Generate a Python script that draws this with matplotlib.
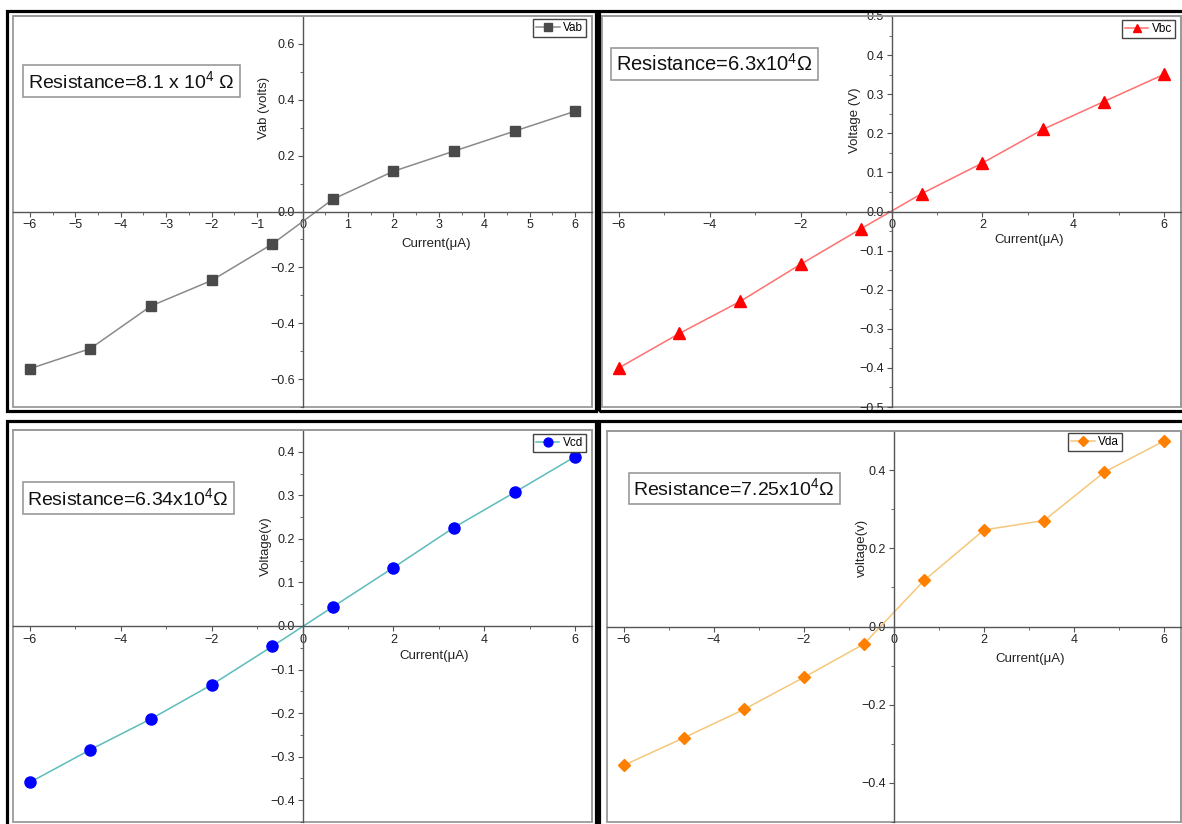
import matplotlib
matplotlib.use("Agg")
import matplotlib.pyplot as plt
from matplotlib.patches import Rectangle
from matplotlib.ticker import MultipleLocator

plt.rcParams['font.family'] = ['Liberation Sans', 'DejaVu Sans']
plt.rcParams['mathtext.fontset'] = 'custom'
plt.rcParams['mathtext.rm'] = 'Liberation Sans'
plt.rcParams['mathtext.it'] = 'Liberation Sans'

current = [-6, -4.67, -3.33, -2, -0.67, 0.67, 2, 3.33, 4.67, 6]

vab = [-0.563, -0.491, -0.338, -0.247, -0.117, 0.044, 0.144, 0.216, 0.288, 0.359]
vbc = [-0.400, -0.312, -0.230, -0.135, -0.044, 0.046, 0.124, 0.210, 0.281, 0.351]
vcd = [-0.359, -0.284, -0.213, -0.135, -0.047, 0.044, 0.134, 0.226, 0.307, 0.389]
vda = [-0.355, -0.285, -0.212, -0.130, -0.045, 0.118, 0.247, 0.271, 0.395, 0.475]

W, H = 1182, 824
fig = plt.figure(figsize=(W / 100, H / 100), dpi=100)


def px_axes(l, t, r, b):
    return fig.add_axes([l / W, 1 - b / H, (r - l) / W, (b - t) / H])


def frame(l, t, r, b):
    fig.patches.append(Rectangle((l / W, 1 - b / H), (r - l) / W, (b - t) / H,
                                 transform=fig.transFigure, fill=False,
                                 ec='black', lw=2.3))


panels = [
    dict(box=(13, 16, 592, 407), outer=(7, 11, 596, 411), y=vab, label='Vab',
         mk='s', mc='#4a4a4a', lc='#8a8a8a', ms=7.5, ylim=0.7, xmaj=1, ymaj=0.2,
         ylab='Vab (volts)', ylpos=(-0.85, 0.37), xlpos=(2.95, -0.115),
         res='Resistance=8.1 x 10$^4$ \u03a9', rpos=(0.026, 0.862), fs=14,
         leg=(0.99, 0.992)),
    dict(box=(602, 16, 1181, 407), outer=(599, 11, 1184, 411), y=vbc, label='Vbc',
         mk='^', mc='#ff0000', lc='#ff7070', ms=8, ylim=0.5, xmaj=2, ymaj=0.1,
         ylab='Voltage (V)', ylpos=(-0.80, 0.233), xlpos=(3.03, -0.073),
         res='Resistance=6.3x10$^4$\u03a9', rpos=(0.025, 0.905), fs=14.5,
         leg=(0.99, 0.99)),
    dict(box=(13, 430, 592, 822), outer=(7, 421, 596, 826), y=vcd, label='Vcd',
         mk='o', mc='#0000ff', lc='#5cbcbc', ms=8, ylim=0.45, xmaj=2, ymaj=0.1,
         ylab='Voltage(v)', ylpos=(-0.80, 0.184), xlpos=(2.9, -0.07),
         res='Resistance=6.34x10$^4$\u03a9', rpos=(0.025, 0.855), fs=14,
         leg=(0.99, 0.99)),
    dict(box=(607, 431, 1181, 822), outer=(599, 421, 1184, 826), y=vda, label='Vda',
         mk='D', mc='#ff8000', lc='#f5c77a', ms=6.5, ylim=0.5, xmaj=2, ymaj=0.2,
         ylab='voltage(v)', ylpos=(-0.71, 0.2), xlpos=(3.02, -0.084),
         res='Resistance=7.25x10$^4$\u03a9', rpos=(0.046, 0.881), fs=14,
         leg=(0.897, 0.995)),
]

for p in panels:
    frame(*p['outer'])
    ax = px_axes(*p['box'])
    ax.plot(current, p['y'], '-', color=p['lc'], lw=1.1, marker=p['mk'],
            mfc=p['mc'], mec=p['mc'], ms=p['ms'], label=p['label'])
    ax.set_xlim(-6.37, 6.37)
    ax.set_ylim(-p['ylim'], p['ylim'])

    for s in ['top', 'right']:
        ax.spines[s].set_color('#9a9a9a')
        ax.spines[s].set_linewidth(1.3)
    for s in ['left', 'bottom']:
        ax.spines[s].set_position(('data', 0))
        ax.spines[s].set_color('#555555')
        ax.spines[s].set_linewidth(1.0)
    ax.add_patch(Rectangle((0, 0), 1, 1, transform=ax.transAxes, fill=False,
                           ec='#9a9a9a', lw=1.3, clip_on=False))

    ax.xaxis.set_major_locator(MultipleLocator(p['xmaj']))
    ax.xaxis.set_minor_locator(MultipleLocator(p['xmaj'] / 2))
    ax.yaxis.set_major_locator(MultipleLocator(p['ymaj']))
    ax.yaxis.set_minor_locator(MultipleLocator(p['ymaj'] / 2))
    ax.tick_params(which='major', direction='out', length=3.5, width=0.8,
                   color='#555555', labelsize=9, labelcolor='#222222', pad=2)
    ax.tick_params(which='minor', direction='out', length=2, width=0.6,
                   color='#555555')
    ax.xaxis.set_major_formatter(plt.FuncFormatter(
        lambda v, pos: ('%d' % round(v)).replace('-', '\u2212')))
    ax.yaxis.set_major_formatter(plt.FuncFormatter(
        lambda v, pos: ('%.1f' % v).replace('-', '\u2212')))

    ax.text(p['ylpos'][0], p['ylpos'][1], p['ylab'], rotation=90, ha='center',
            va='center', fontsize=9.5, color='#222222')
    ax.text(p['xlpos'][0], p['xlpos'][1], 'Current(\u03bcA)', ha='center',
            va='center', fontsize=9.5, color='#222222')

    ax.text(p['rpos'][0], p['rpos'][1], p['res'], transform=ax.transAxes,
            ha='left', va='top', fontsize=p['fs'], color='#111111',
            bbox=dict(boxstyle='square,pad=0.25', fc='white', ec='#9a9a9a', lw=1.2))

    leg = ax.legend(loc='upper right', bbox_to_anchor=p['leg'], fontsize=8.5,
                    fancybox=False, edgecolor='#444444', framealpha=1,
                    handlelength=2.0, handletextpad=0.3, borderpad=0.25,
                    borderaxespad=0, markerscale=0.8)
    leg.get_frame().set_linewidth(1.0)

fig.savefig('out.png', dpi=100)
